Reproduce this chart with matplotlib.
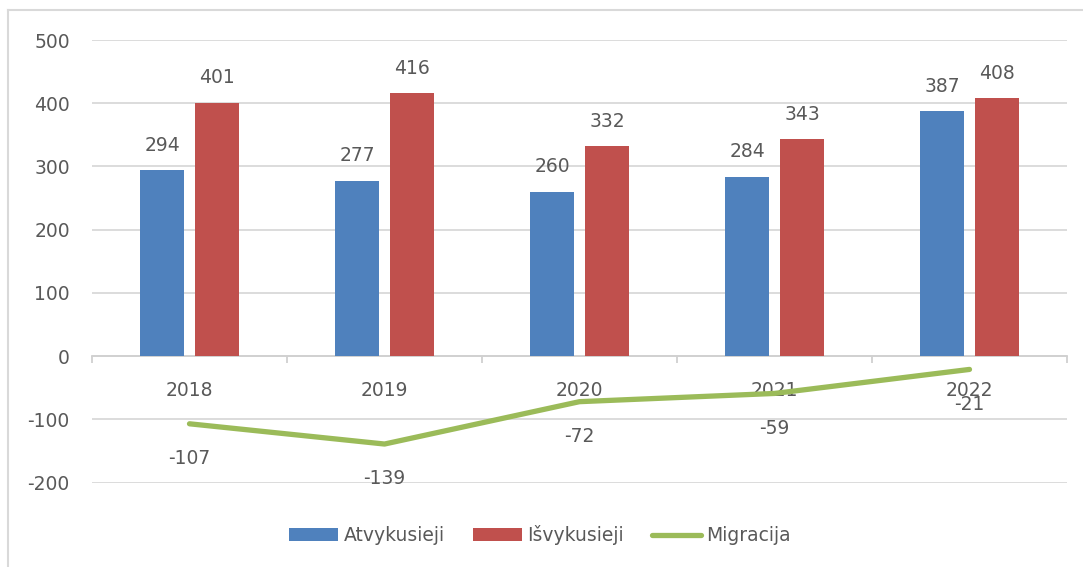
import matplotlib
matplotlib.use("Agg")
import matplotlib.pyplot as plt
from matplotlib.lines import Line2D
from matplotlib.patches import Patch
import numpy as np

years = ["2018", "2019", "2020", "2021", "2022"]
atvykusieji = [294, 277, 260, 284, 387]
isvykusieji = [401, 416, 332, 343, 408]
migracija = [-107, -139, -72, -59, -21]
yticks = [-200, -100, 0, 100, 200, 300, 400, 500]

BLUE = "#4F81BD"
RED = "#C0504D"
GREEN = "#9BBB59"
TXT = "#595959"
GRID = "#D9D9D9"

plt.rcParams['font.family'] = ['DejaVu Sans']
FS = 13.5

fig = plt.figure(figsize=(10.83, 5.67), dpi=100)
ax = fig.add_axes([92/1083, 1-482.6/567, (1067-92)/1083, (482.6-40)/567])

x = np.arange(len(years))
bw = 0.226
off = 0.141
ax.bar(x - off, atvykusieji, bw, color=BLUE, zorder=3, label="Atvykusieji")
ax.bar(x + off, isvykusieji, bw, color=RED, zorder=3, label="Išvykusieji")
ax.plot(x, migracija, color=GREEN, lw=3.8, solid_capstyle='round', zorder=4)

for xi, v in zip(x - off, atvykusieji):
    ax.annotate(str(v), (xi, v), xytext=(0, 18), textcoords='offset points',
                ha='center', va='center', fontsize=FS, color=TXT)
for xi, v in zip(x + off, isvykusieji):
    ax.annotate(str(v), (xi, v), xytext=(0, 18), textcoords='offset points',
                ha='center', va='center', fontsize=FS, color=TXT)
for xi, v in zip(x, migracija):
    ax.annotate(str(v), (xi, v), xytext=(0, -25), textcoords='offset points',
                ha='center', va='center', fontsize=FS, color=TXT)

ax.set_xlim(-0.5, len(years) - 0.5)
ax.set_ylim(-200, 500)
ax.set_yticks(yticks)
ax.set_yticklabels([str(t) for t in yticks])
ax.yaxis.grid(True, color=GRID, lw=1.3, zorder=0)
ax.set_axisbelow(True)

for s in ['top', 'right', 'left']:
    ax.spines[s].set_visible(False)
ax.spines['bottom'].set_position(('data', 0))
ax.spines['bottom'].set_color("#D0D0D0")
ax.spines['bottom'].set_linewidth(1.3)
ax.spines['bottom'].set_zorder(2)

ax.set_xticks(np.arange(-0.5, len(years), 1.0))
ax.set_xticklabels([])
ax.set_xticks(x, minor=True)
ax.set_xticklabels(years, minor=True)
ax.tick_params(axis='x', which='major', direction='out', length=5, width=1.3, color="#D0D0D0")
ax.tick_params(axis='x', which='minor', length=0, pad=18, labelsize=FS, labelcolor=TXT)
ax.tick_params(axis='y', length=0, pad=16, labelsize=FS, labelcolor=TXT)

handles = [Patch(facecolor=BLUE, label="Atvykusieji"),
           Patch(facecolor=RED, label="Išvykusieji"),
           Line2D([0], [0], color=GREEN, lw=3.8, solid_capstyle='round', label="Migracija")]
fig.legend(handles=handles, loc='center', bbox_to_anchor=(540/1083, 1-535/567), ncol=3,
           frameon=False, fontsize=FS, labelcolor=TXT, handlelength=2.6, handleheight=0.66,
           handletextpad=0.3, columnspacing=1.5)

# chart outer border
fig.add_artist(Line2D([8/1083, 1.0], [1-10/567, 1-10/567], transform=fig.transFigure, color=GRID, lw=1.5))
fig.add_artist(Line2D([8/1083, 8/1083], [0, 1-10/567], transform=fig.transFigure, color=GRID, lw=1.5))

fig.savefig("out.png", dpi=100)
